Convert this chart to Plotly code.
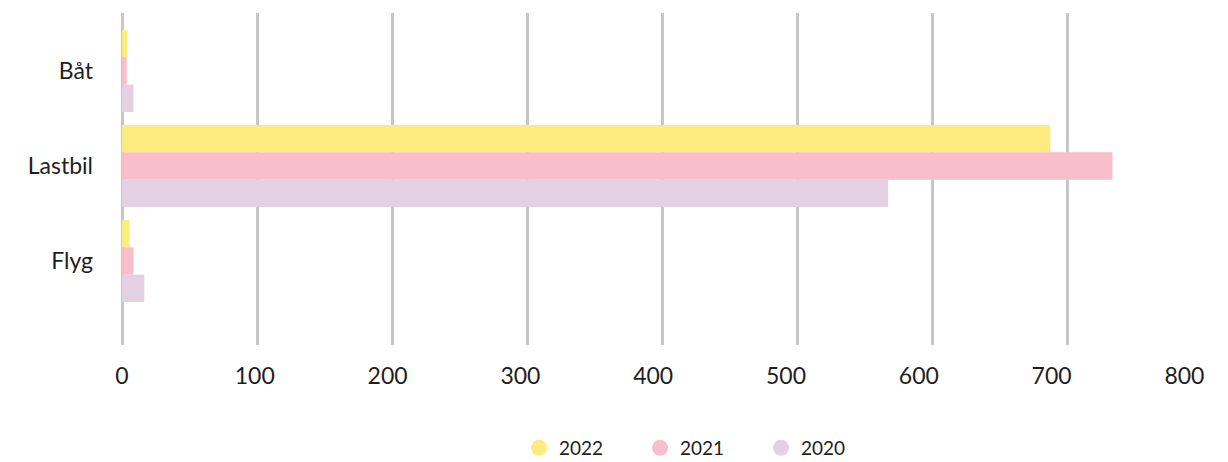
import plotly.graph_objects as go

categories = ["Båt", "Lastbil", "Flyg"]
series_names = ["2022", "2021", "2020"]
values_2022 = [4, 687, 5.5]
values_2021 = [3.5, 733, 8.5]
values_2020 = [8.5, 567, 16.5]
colors = ["#FEEB80", "#F8BECB", "#E3D1E3"]
x_ticks = [0, 100, 200, 300, 400, 500, 600, 700, 800]

series_values = [values_2022, values_2021, values_2020]

fig = go.Figure()
for name, vals, col in zip(series_names, series_values, colors):
    fig.add_trace(go.Bar(
        x=vals, y=categories, orientation="h", name=name,
        marker=dict(color=col, line=dict(width=0)),
        showlegend=False,
    ))
for name, col in zip(series_names, colors):
    fig.add_trace(go.Scatter(
        x=[None], y=[None], mode="markers", name=name,
        marker=dict(color=col, size=16, symbol="circle"),
        showlegend=True,
    ))
# carrier for the label axis
fig.add_trace(go.Scatter(x=[None], y=[None], xaxis="x2", yaxis="y",
                         mode="markers", showlegend=False, hoverinfo="skip"))

fig.update_layout(
    width=1220, height=454,
    margin=dict(l=114, r=25, t=5, b=117, autoexpand=False),
    paper_bgcolor="white", plot_bgcolor="white",
    barmode="group", bargap=0.137, bargroupgap=0,
    font=dict(family="Lato", color="#1E1E1E"),
    legend=dict(
        orientation="h", xref="container", yref="container",
        x=0.4189, xanchor="left", y=0.0308, yanchor="middle",
        font=dict(size=19, color="#1E1E1E"), itemsizing="trace",
        entrywidth=76, entrywidthmode="pixels",
    ),
    xaxis=dict(
        range=[0, 800], tickvals=x_ticks,
        showgrid=True, gridcolor="#C6C6C6", gridwidth=2.5,
        zeroline=True, zerolinecolor="#C6C6C6", zerolinewidth=2.5,
        showline=False, ticks="", showticklabels=False, automargin=False,
        fixedrange=True,
    ),
    xaxis2=dict(
        overlaying="x", side="bottom", anchor="y",
        range=[0, 814], tickvals=x_ticks, ticktext=[str(v) for v in x_ticks],
        showgrid=False, zeroline=False, showline=False, ticks="",
        ticklabelstandoff=15, automargin=False,
        tickfont=dict(size=23, color="#1E1E1E"), fixedrange=True,
    ),
    yaxis=dict(
        type="category", categoryorder="array", categoryarray=categories,
        range=[2.884, -0.61], showgrid=False, zeroline=False, showline=False,
        ticks="", ticklabelstandoff=28, automargin=False,
        tickfont=dict(size=23, color="#1E1E1E"), fixedrange=True,
    ),
)

fig.write_html("out.html")
